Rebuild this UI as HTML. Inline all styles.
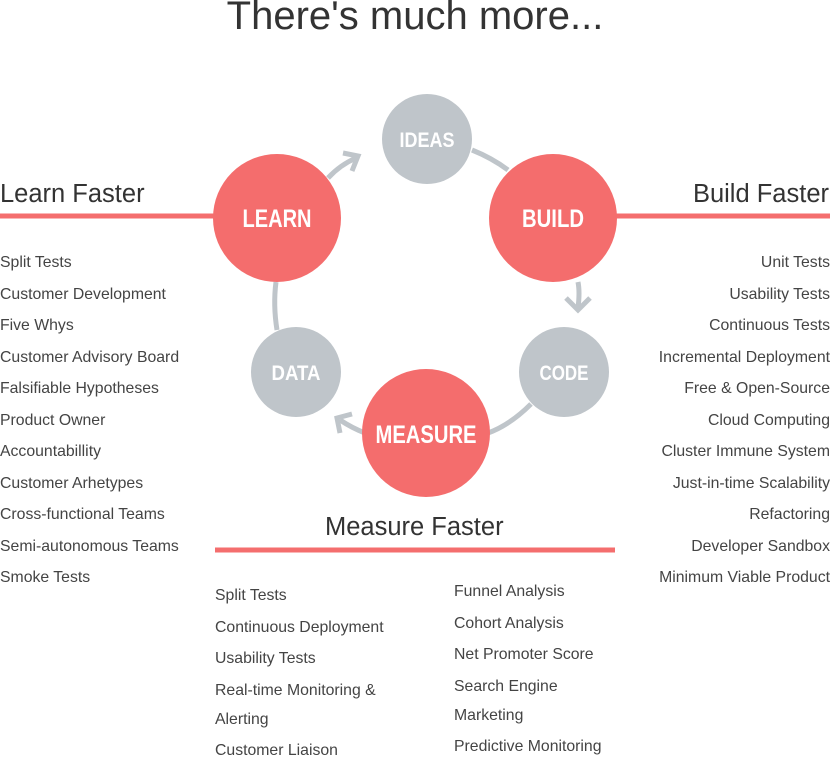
<!DOCTYPE html>
<html><head><meta charset="utf-8"><style>
body{margin:0;width:830px;height:756px;background:#fff;font-family:"Liberation Sans",sans-serif;color:#333;position:relative;overflow:hidden}
.t{position:absolute;white-space:nowrap}
.list div{height:31.5px;line-height:1;font-size:15.8px;color:#444}
h1{position:absolute;margin:0;top:-6px;left:0;width:830px;text-align:center;font-weight:normal;font-size:40px;color:#333}
.hd{position:absolute;font-size:25.5px;color:#333}
</style></head><body>
<h1>There's much more...</h1>
<svg width="830" height="756" style="position:absolute;left:0;top:0">
<g stroke="#f46e6e" stroke-width="5"><line x1="0" y1="216" x2="215" y2="216"/><line x1="615" y1="216" x2="830" y2="216"/><line x1="215" y1="550" x2="615" y2="550"/></g>
<g fill="none" stroke="#bfc5ca" stroke-width="5">
<path d="M328 178 Q340 165 356 158"/><path d="M343 153 L358 156 L352 171"/>
<path d="M472 150 Q492 158 508 170"/>
<path d="M578 282 Q580 292 578 308"/><path d="M566 298 L578 310 L590 298"/>
<path d="M531 404 Q510 425 488 433"/>
<path d="M365 433 Q352 428 340 420"/><path d="M352 414 L337 418 L340 433"/>
<path d="M276 282 Q273 305 277 330"/>
</g>
<g fill="#bfc5ca"><circle cx="427" cy="139" r="45"/><circle cx="296" cy="372" r="45"/><circle cx="564" cy="372" r="45"/></g>
<g fill="#f46d6d"><circle cx="277" cy="218" r="64"/><circle cx="553" cy="218" r="64"/><circle cx="426" cy="433" r="64"/></g>
<g fill="#fff" font-family="Liberation Sans" font-weight="bold" text-anchor="middle">
<text x="427" y="147" font-size="21" textLength="55" lengthAdjust="spacingAndGlyphs">IDEAS</text>
<text x="296" y="380" font-size="21" textLength="49" lengthAdjust="spacingAndGlyphs">DATA</text>
<text x="564" y="380" font-size="21" textLength="49" lengthAdjust="spacingAndGlyphs">CODE</text>
<text x="277" y="227" font-size="25" textLength="69" lengthAdjust="spacingAndGlyphs">LEARN</text>
<text x="553" y="227" font-size="25" textLength="62" lengthAdjust="spacingAndGlyphs">BUILD</text>
<text x="426" y="443" font-size="25" textLength="101" lengthAdjust="spacingAndGlyphs">MEASURE</text>
</g>
</svg>
<div class="hd" style="left:0;top:180px">Learn Faster</div>
<div class="hd" style="right:1px;top:180px">Build Faster</div>
<div class="hd" style="left:325px;top:513px">Measure Faster</div>
<div class="t list" style="left:0;top:255px">
<div>Split Tests</div><div>Customer Development</div><div>Five Whys</div><div>Customer Advisory Board</div><div>Falsifiable Hypotheses</div><div>Product Owner</div><div>Accountabillity</div><div>Customer Arhetypes</div><div>Cross-functional Teams</div><div>Semi-autonomous Teams</div><div>Smoke Tests</div></div>
<div class="t list" style="right:0;top:255px;text-align:right">
<div>Unit Tests</div><div>Usability Tests</div><div>Continuous Tests</div><div>Incremental Deployment</div><div>Free &amp; Open-Source</div><div>Cloud Computing</div><div>Cluster Immune System</div><div>Just-in-time Scalability</div><div>Refactoring</div><div>Developer Sandbox</div><div>Minimum Viable Product</div></div>
<div class="t list" style="left:215px;top:588px">
<div>Split Tests</div><div>Continuous Deployment</div><div>Usability Tests</div><div style="height:29px">Real-time Monitoring &amp;</div><div>Alerting</div><div>Customer Liaison</div></div>
<div class="t list" style="left:454px;top:584px">
<div>Funnel Analysis</div><div>Cohort Analysis</div><div>Net Promoter Score</div><div style="height:29px">Search Engine</div><div>Marketing</div><div>Predictive Monitoring</div></div>
</body></html>
